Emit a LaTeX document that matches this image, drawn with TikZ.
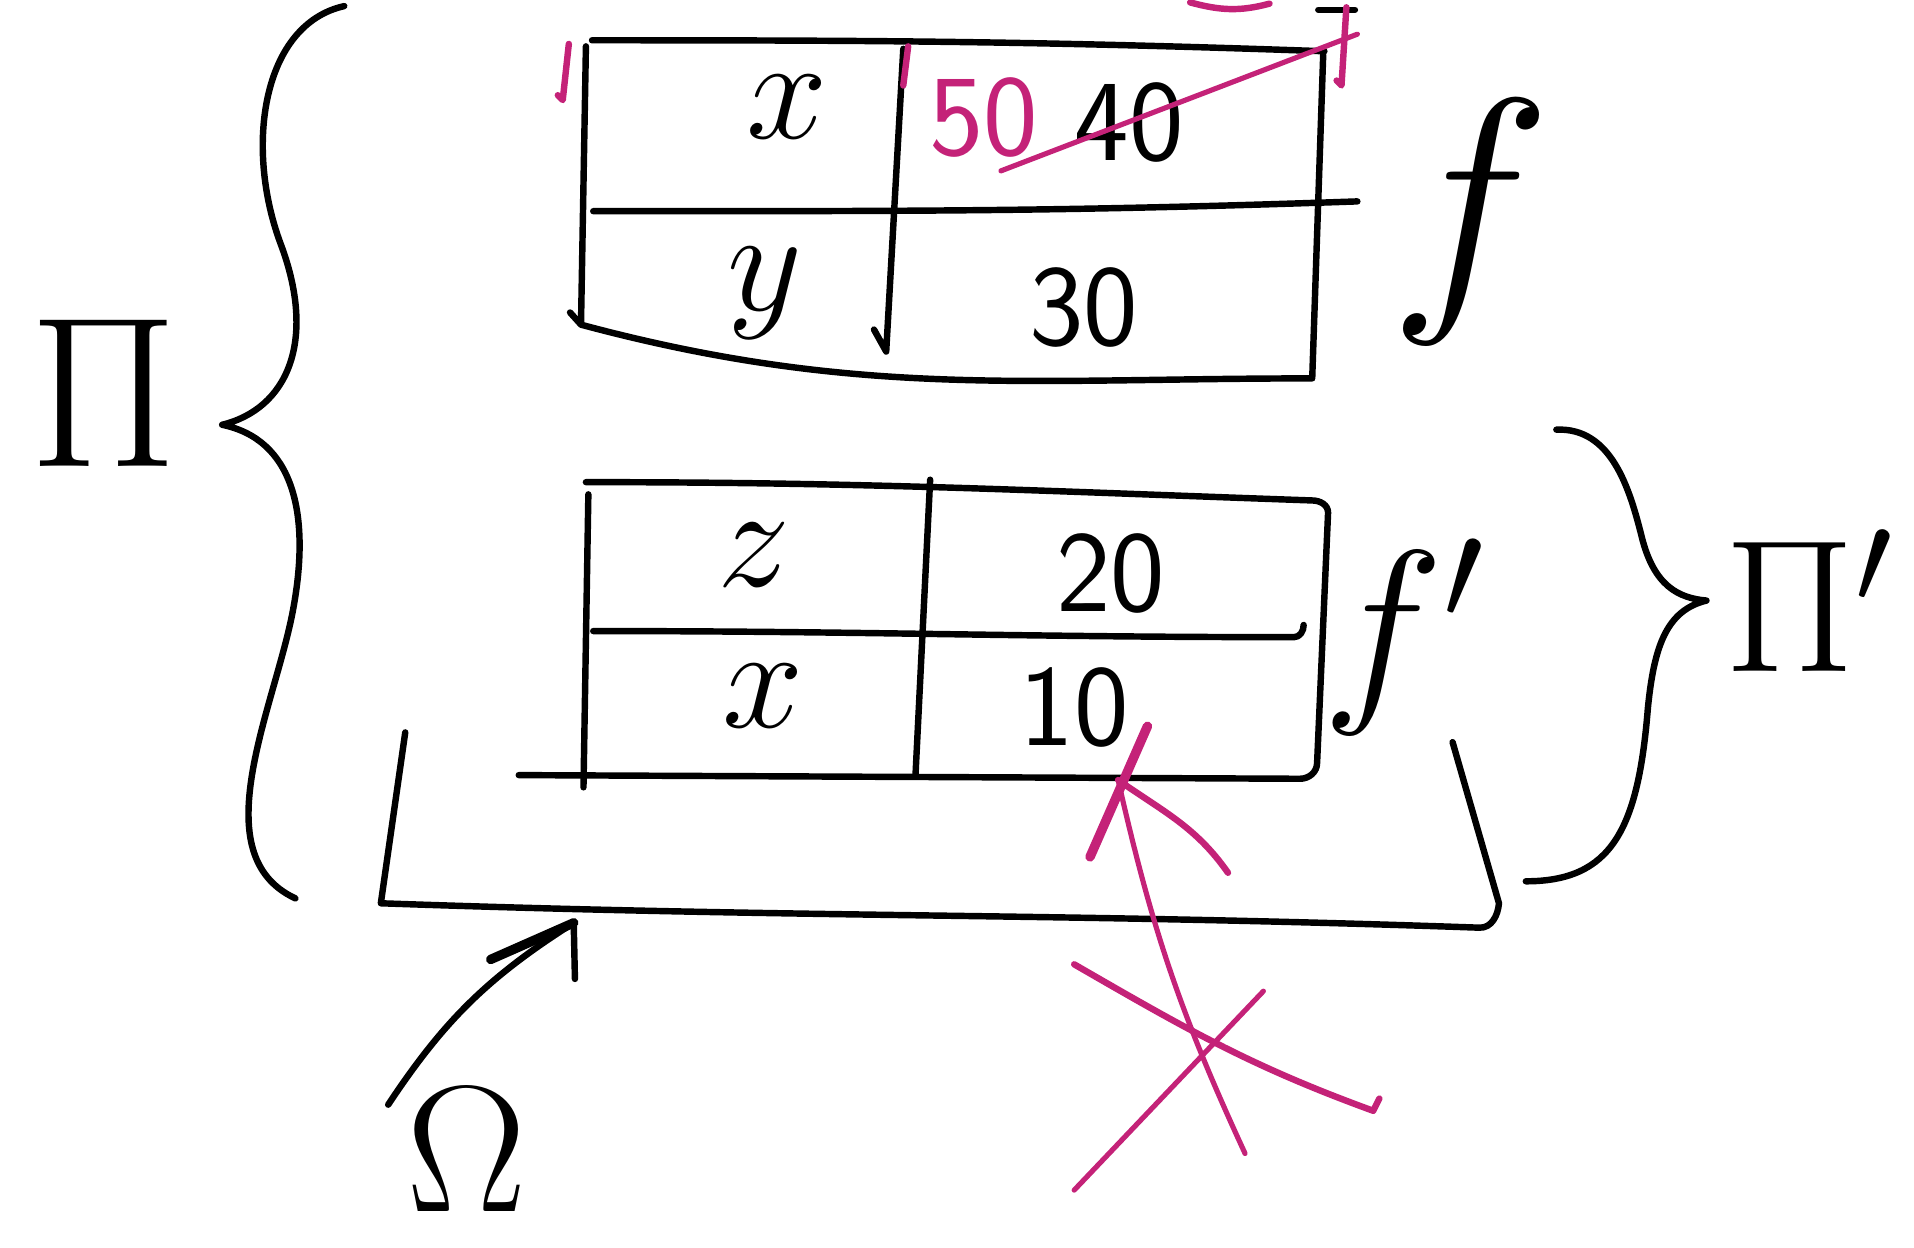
\RequirePackage{fix-cm}
\documentclass[tikz,border=0pt]{standalone}
\usepackage{amsmath}
\usetikzlibrary{arrows.meta, positioning}
\definecolor{markpink}{RGB}{196,34,120}

\begin{document}
\begin{tikzpicture}[
    x=0.01cm, y=-0.01cm,
    pen/.style={line width=1.5pt, line cap=round, line join=round},
    pinkpen/.style={pen, draw=markpink},
    letter/.style={font=\fontsize{34}{34}\selectfont, inner sep=0pt},
    digits/.style={font=\fontsize{27}{27}\selectfont\sffamily, inner sep=0pt},
    tag/.style={inner sep=0pt}
    ]
    \useasboundingbox (0,0) rectangle (1568,1022);

    % Upper table (f)
    \draw[pen] (485,33) to[out=0,in=178] (1085,42);
    \draw[pen] (480,38) -- (476,264);
    \draw[pen] (467,256) -- (476,266) to[out=-15,in=180] (1075,310) -- (1084,45);
    \draw[pen] (486,173) to[out=0,in=182] (1112,165);
    \draw[pen] (740,40) -- (726,288) -- (716,270);
    \node[letter] (tx) at (645,88) {$x$};
    \node[letter] (ty) at (627,240) {$y$};
    \node[digits, text=markpink] (t50) at (806,96) {50};
    \node[digits] (t40) at (925,100) {40};
    \node[digits] (t30) at (888,252) {30};

    % pink corrections on the upper table
    \draw[pinkpen] (466,36) -- (461,82) -- (457,78);
    \draw[pinkpen] (744,38) -- (740,70);
    \draw[pen] (1080,8) -- (1110,8);
    \draw[pinkpen] (1103,6) -- (1099,70) -- (1095,66);
    \draw[pinkpen] (975,2) to[out=-15,in=195] (1040,3);
    \draw[pinkpen, line width=1.2pt] (820,140) -- (1112,28);

    % Lower table (f')
    \draw[pen] (480,395) to[out=0,in=178] (1075,410) to[out=0,in=90] (1088,420)
        -- (1079,625) to[out=-90,in=0] (1065,638) -- (425,635);
    \draw[pen] (482,405) -- (478,645);
    \draw[pen] (486,517) to[out=0,in=180] (1060,522) to[out=0,in=-90] (1068,512);
    \draw[pen] (762,393) -- (750,635);
    \node[letter] (bz) at (618,455) {$z$};
    \node[digits] (b20) at (910,470) {20};
    \node[letter] (bx) at (625,570) {$x$};
    \node[digits] (b10) at (880,580) {10};

    % Omega bracket
    \draw[pen] (332,600) -- (312,740) to[out=-2,in=178] (1212,760)
        to[out=-2,in=-95] (1228,740) -- (1190,608);

    % Labels
    \node[tag, font=\fontsize{64}{64}\selectfont] (lf) at (1205,182) {$f$};
    \node[tag, font=\fontsize{48}{48}\selectfont] (lfp) at (1150,522) {$f'$};
    \node[tag, font=\fontsize{50}{50}\selectfont] (lpi) at (85,322) {$\Pi$};
    \node[tag, font=\fontsize{44}{44}\selectfont] (lpip) at (1482,492) {$\Pi'$};
    \node[tag, font=\fontsize{42}{42}\selectfont] (lomega) at (382,942) {$\Omega$};

    % Braces
    \draw[pen] (282,5) .. controls (215,20) and (200,120) .. (230,200)
        .. controls (260,280) and (235,335) .. (182,348)
        .. controls (240,360) and (255,420) .. (240,500)
        .. controls (225,580) and (165,700) .. (242,736);
    \draw[pen] (1275,352) .. controls (1320,350) and (1335,400) .. (1345,440)
        .. controls (1355,480) and (1375,490) .. (1398,492)
        .. controls (1365,500) and (1355,530) .. (1350,580)
        .. controls (1342,680) and (1320,722) .. (1250,722);

    % Arrow from Omega
    \coordinate (om-tail) at (318,905);
    \coordinate (om-tip) at (470,756);
    \draw[pen] (om-tail) to[bend left=12] (om-tip);
    \draw[pen, line width=2.2pt] (402,786) -- (om-tip);
    \draw[pen] (om-tip) -- (471,802);

    % Struck-out pink arrow
    \coordinate (p-tail) at (1020,945);
    \coordinate (p-tip) at (916,639);
    \draw[pinkpen, line width=1.2pt] (p-tail) to[bend left=6] (p-tip);
    \draw[pinkpen, line width=2.2pt] (940,595) -- (893,702);
    \draw[pinkpen] (p-tip) to[out=-35,in=125] (1006,715);
    \draw[pinkpen] (880,790) to[out=-30,in=160] (1125,910) -- (1130,900);
    \draw[pinkpen, line width=1.2pt] (880,975) -- (1035,812);
\end{tikzpicture}
\end{document}
